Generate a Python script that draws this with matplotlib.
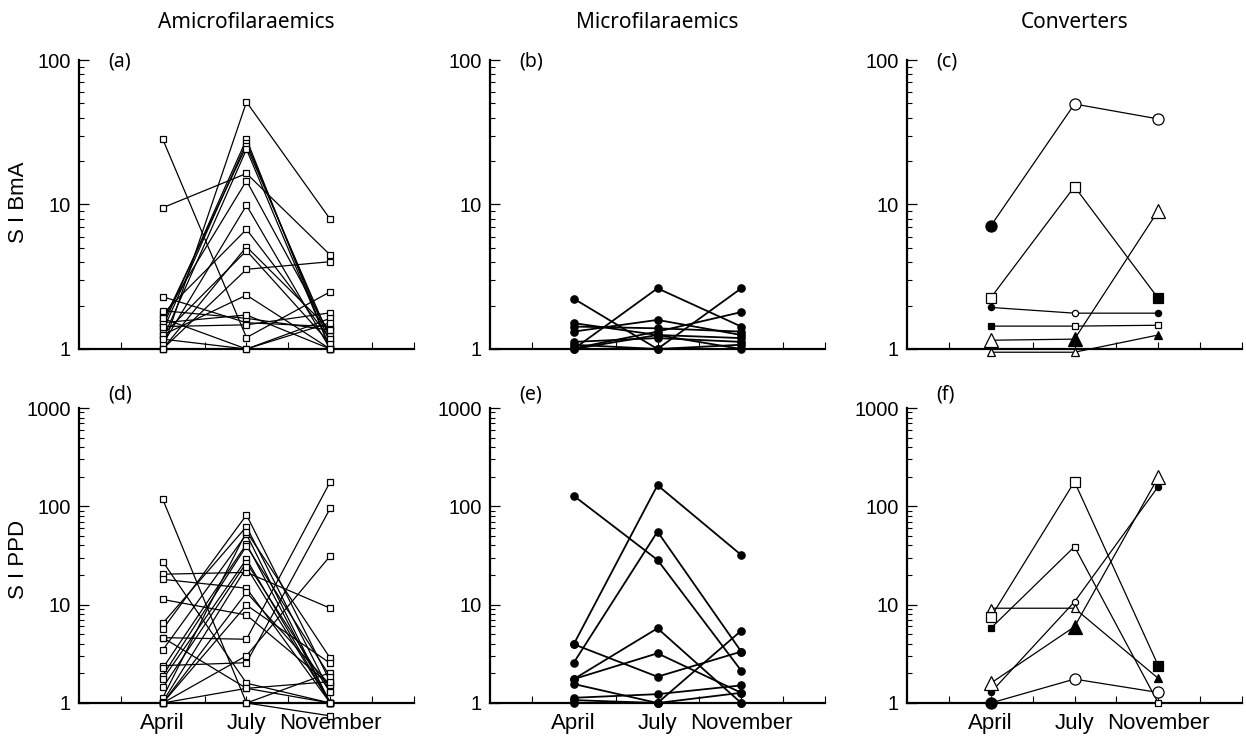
import matplotlib
matplotlib.use('Agg')
import matplotlib.pyplot as plt
import matplotlib.transforms as mtransforms
from matplotlib.ticker import FixedLocator, NullFormatter, FuncFormatter

# ---------------- data ----------------
months = ['April', 'July', 'November']
month_pos = [1, 2, 3]
group_titles = ['Amicrofilaraemics', 'Microfilaraemics', 'Converters']
panel_letters = ['(a)', '(b)', '(c)', '(d)', '(e)', '(f)']
row_labels = ['S I BmA', 'S I PPD']

# Amicrofilaraemics, SI BmA (April, July, November)
amf_bma = [
    [1.00, 51.2, 7.90],
    [28.3, 1.20, 2.49],
    [9.50, 16.4, 4.47],
    [1.43, 28.3, 1.00],
    [1.33, 26.8, 1.09],
    [1.52, 25.4, 1.17],
    [1.17, 24.1, 1.00],
    [1.63, 14.6, 1.25],
    [1.08, 9.87, 1.00],
    [1.75, 6.73, 1.17],
    [1.00, 5.10, 1.35],
    [1.25, 4.79, 1.09],
    [1.00, 3.56, 4.02],
    [1.25, 2.36, 1.00],
    [2.30, 1.52, 1.43],
    [1.84, 1.63, 1.35],
    [1.52, 1.72, 1.00],
    [1.43, 1.47, 1.78],
    [1.17, 1.00, 1.63],
    [1.63, 1.00, 1.52],
]

# Microfilaraemics, SI BmA
mf_bma = [
    [2.23, 1.00, 2.63],
    [1.00, 2.63, 1.43],
    [1.01, 1.32, 1.80],
    [1.51, 1.25, 1.19],
    [1.43, 1.39, 1.32],
    [1.32, 1.59, 1.25],
    [1.12, 1.19, 1.12],
    [1.07, 1.00, 1.07],
    [1.00, 1.25, 1.00],
]

# Converters, SI BmA (large circle, large square, small circle, small square, large triangle, small triangle)
conv_bma = [
    [7.10, 49.6, 39.1],
    [2.26, 13.3, 2.24],
    [1.94, 1.77, 1.77],
    [1.44, 1.44, 1.46],
    [1.15, 1.17, 9.06],
    [0.95, 0.95, 1.25],
]

# Amicrofilaraemics, SI PPD
amf_ppd = [
    [118., 1.00, 2.04],
    [27.4, 1.59, 1.00],
    [20.4, 21.3, 9.20],
    [18.1, 14.7, 1.00],
    [11.3, 7.85, 1.52],
    [6.47, 62.2, 1.28],
    [5.62, 81.7, 1.65],
    [4.62, 4.45, 178.],
    [3.46, 52.0, 1.00],
    [2.40, 2.57, 95.6],
    [2.26, 41.4, 1.00],
    [1.90, 39.5, 1.85],
    [1.75, 29.0, 1.00],
    [1.44, 26.8, 1.28],
    [1.13, 55.3, 2.85],
    [1.03, 24.0, 1.00],
    [1.00, 13.3, 1.52],
    [1.00, 9.90, 2.53],
    [1.00, 3.03, 31.3],
    [4.62, 1.41, 1.00],
    [1.00, 1.41, 1.65],
    [1.00, 1.00, 0.74],
]

# Microfilaraemics, SI PPD
mf_ppd = [
    [128., 28.5, 2.13],
    [3.96, 164., 32.0],
    [2.57, 55.3, 3.33],
    [3.96, 1.85, 3.33],
    [1.75, 5.75, 1.00],
    [1.75, 3.20, 1.27],
    [1.56, 1.00, 5.44],
    [1.13, 1.23, 1.51],
    [1.07, 1.00, 1.27],
    [1.00, 1.00, 1.00],
]

# Converters, SI PPD
conv_ppd = [
    [1.00, 1.75, 1.28],
    [7.45, 178., 2.40],
    [1.28, 10.7, 159.],
    [5.75, 38.9, 1.00],
    [1.59, 5.97, 198.],
    [9.20, 9.20, 1.78],
]

# converter status per month: True = microfilaraemic (filled symbol)
conv_mf_status = [
    [True, False, False],
    [False, False, True],
    [True, False, True],
    [True, False, False],
    [False, True, False],
    [False, False, True],
]

# ---------------- style ----------------
conv_shape = ['o', 's', 'o', 's', '^', '^']
conv_size = [8.0, 7.0, 4.5, 4.5, 10.0, 6.0]

W, H = 1246, 737
fig = plt.figure(figsize=(W / 100, H / 100), dpi=100)

tick_font = 'Liberation Sans'
title_font = 'Noto Sans'

col_left = [79, 490, 907]
col_w = 335
row_top = [60, 408]
row_bot = [349, 703]
ytop = [100, 1000]

panels = [
    [('sq', amf_bma), ('dot', mf_bma), ('conv', conv_bma)],
    [('sq', amf_ppd), ('dot', mf_ppd), ('conv', conv_ppd)],
]

axes = []
for r in range(2):
    for c in range(3):
        l = col_left[c] / W
        b = 1 - row_bot[r] / H
        h = (row_bot[r] - row_top[r]) / H
        ax = fig.add_axes([l, b, col_w / W, h])
        axes.append(ax)
        kind, data = panels[r][c]

        ax.set_yscale('log')
        ax.set_ylim(1, ytop[r])
        ax.set_xlim(0, 4)
        for s in ['top', 'right']:
            ax.spines[s].set_visible(False)
        for s in ['left', 'bottom']:
            ax.spines[s].set_linewidth(1.6)

        decades = [10 ** k for k in range(0, 4) if 10 ** k <= ytop[r]]
        ax.yaxis.set_major_locator(FixedLocator(decades))
        minors = [m * d for d in decades[:-1] for m in range(2, 10)]
        ax.yaxis.set_minor_locator(FixedLocator(minors))
        ax.yaxis.set_major_formatter(FuncFormatter(lambda v, p: '%d' % round(v)))
        ax.yaxis.set_minor_formatter(NullFormatter())
        ax.tick_params(axis='y', which='major', direction='in', length=7, width=0.9,
                       pad=6, labelsize=14.5)
        ax.tick_params(axis='y', which='minor', direction='in', length=3.5, width=0.8)

        ax.xaxis.set_major_locator(FixedLocator(month_pos))
        ax.xaxis.set_minor_locator(FixedLocator([0.5, 1.5, 2.5, 3.5, 4.0]))
        if r == 1:
            ax.set_xticklabels(months)
        else:
            ax.set_xticklabels([])
        ax.tick_params(axis='x', which='both', direction='in', length=5, width=0.8,
                       pad=7, labelsize=16)
        for t in ax.get_xticklabels() + ax.get_yticklabels():
            t.set_fontfamily(tick_font)

        if kind == 'sq':
            for s in data:
                ax.plot(month_pos, s, '-', color='black', lw=0.9, zorder=2, clip_on=False)
            for s in data:
                ax.plot(month_pos, s, linestyle='none', marker='s', ms=4.6, mfc='white',
                        mec='black', mew=0.9, zorder=3, clip_on=False)
        elif kind == 'dot':
            for s in data:
                ax.plot(month_pos, s, '-', color='black', lw=1.3, zorder=2, clip_on=False)
                ax.plot(month_pos, s, linestyle='none', marker='o', ms=5.2, mfc='black',
                        mec='black', zorder=3, clip_on=False)
        else:
            for i, s in enumerate(data):
                ax.plot(month_pos, s, '-', color='black', lw=0.9, zorder=2, clip_on=False)
                for j in range(3):
                    filled = conv_mf_status[i][j]
                    ax.plot([month_pos[j]], [s[j]], linestyle='none', marker=conv_shape[i],
                            ms=conv_size[i], mfc='black' if filled else 'white',
                            mec='black', mew=0.9, zorder=3, clip_on=False)

        # panel letter
        ly = 0.995 if r == 0 else 1.045
        ax.text(0.088, ly, panel_letters[r * 3 + c], transform=ax.transAxes,
                ha='left', va='center', fontsize=14, fontfamily=title_font)

        if r == 0:
            tr = mtransforms.blended_transform_factory(ax.transData, fig.transFigure)
            ax.text(2, 1 - 22 / H, group_titles[c], transform=tr, ha='center',
                    va='center', fontsize=15, fontfamily=title_font)

fig.text(19 / W, 1 - 202 / H, row_labels[0], rotation=90, ha='center', va='center',
         fontsize=16, fontfamily=tick_font)
fig.text(19 / W, 1 - 559 / H, row_labels[1], rotation=90, ha='center', va='center',
         fontsize=16, fontfamily=tick_font)

fig.savefig('out.png', dpi=100)
